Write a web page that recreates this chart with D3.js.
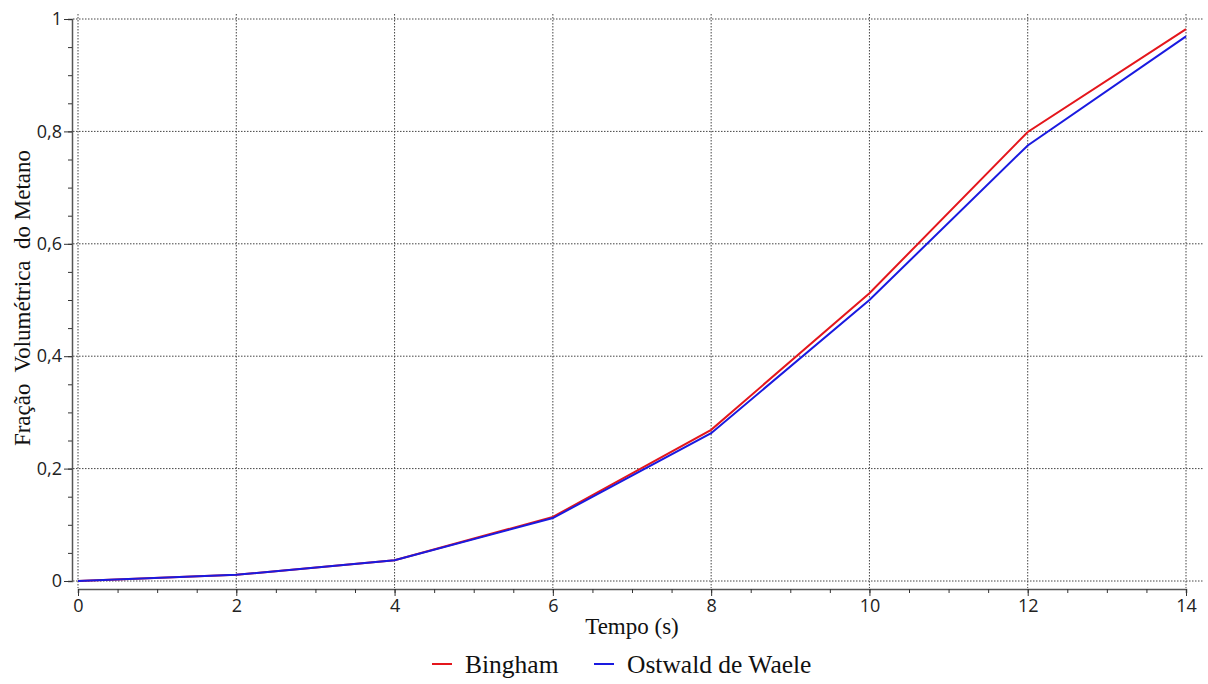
<!DOCTYPE html>
<html lang="pt">
<head>
<meta charset="UTF-8">
<title>Fração Volumétrica do Metano</title>
<script src="https://d3js.org/d3.v7.min.js"></script>
<style>
  body { margin: 0; background: #fff; }
  .title { font-family: "Liberation Serif", "Times New Roman", serif; fill: #111; }
</style>
</head>
<body>
<svg width="1208" height="684"></svg>
<script>
// data
var tempo = [0, 2, 4, 6, 8, 10, 12, 14];
var bingham = [0, 0.011, 0.037, 0.114, 0.269, 0.512, 0.799, 0.982];
var ostwald = [0, 0.011, 0.037, 0.112, 0.263, 0.500, 0.775, 0.969];
var xTicks = [0, 2, 4, 6, 8, 10, 12, 14];
var yTicks = [0, 0.2, 0.4, 0.6, 0.8, 1];
var seriesNames = ["Bingham", "Ostwald de Waele"];
var seriesColors = ["#e4161c", "#1a1ae0"];

var svg = d3.select("svg");

var x = d3.scaleLinear().domain([0, 14]).range([78, 1186]);
var y = d3.scaleLinear().domain([0, 1]).range([581, 19]);
var fmt = function(d) { return String(d).replace(".", ","); };

// grid
var grid = svg.append("g");
grid.selectAll(".vg").data(xTicks).enter().append("line")
    .attr("x1", d => x(d)).attr("x2", d => x(d))
    .attr("y1", 14).attr("y2", 588)
    .attr("stroke", "#444").attr("stroke-width", 1)
    .attr("stroke-dasharray", "1.5,1.5");
grid.selectAll(".hg").data(yTicks).enter().append("line")
    .attr("x1", 73).attr("x2", 1203)
    .attr("y1", d => y(d)).attr("y2", d => y(d))
    .attr("stroke", "#444").attr("stroke-width", 1)
    .attr("stroke-dasharray", "1.5,1.5");

// x axis (offset below the plot)
var xAxis = svg.append("g").attr("transform", "translate(0,589)");
xAxis.call(d3.axisBottom(x).tickValues(d3.range(0, 14.01, 0.5)).tickSize(4).tickFormat(""));
var xLab = svg.append("g").attr("transform", "translate(0,589)")
    .call(d3.axisBottom(x).tickValues(xTicks).tickSize(7).tickPadding(3).tickFormat(fmt));
xLab.select(".domain").remove();

// y axis (offset left of the plot)
var yAxis = svg.append("g").attr("transform", "translate(72,0)");
yAxis.call(d3.axisLeft(y).tickValues(d3.range(0, 1.001, 0.05)).tickSize(4).tickFormat(""));
var yLab = svg.append("g").attr("transform", "translate(72,0)")
    .call(d3.axisLeft(y).tickValues(yTicks).tickSize(8).tickPadding(2).tickFormat(fmt));
yLab.select(".domain").remove();

[xAxis, xLab, yAxis, yLab].forEach(function(g) {
  g.selectAll("path").attr("stroke", "#555").attr("stroke-width", 1.5);
  g.selectAll("line").attr("stroke", "#333");
  g.attr("font-size", null).attr("font-family", null);
  g.selectAll("text")
    .style("font-family", "'Open Sans', 'DejaVu Sans', sans-serif")
    .style("font-size", "18px")
    .attr("fill", "#222");
});

// lines
var line = d3.line().x((d, i) => x(tempo[i])).y(d => y(d));
[bingham, ostwald].forEach(function(vals, k) {
  svg.append("path").datum(vals)
    .attr("d", line)
    .attr("fill", "none")
    .attr("stroke", seriesColors[k])
    .attr("stroke-width", 2);
});

// titles
svg.append("text").attr("class", "title")
    .attr("x", 632).attr("y", 634)
    .attr("text-anchor", "middle").attr("font-size", 23)
    .text("Tempo (s)");
svg.append("text").attr("class", "title")
    .attr("transform", "translate(30,298) rotate(-90)")
    .attr("text-anchor", "middle").attr("font-size", 23)
    .attr("xml:space", "preserve")
    .text("Fração  Volumétrica  do Metano");

// legend
var legendX = [432, 594];
var lg = svg.append("g");
seriesNames.forEach(function(name, k) {
  lg.append("line")
    .attr("x1", legendX[k]).attr("x2", legendX[k] + 20)
    .attr("y1", 664).attr("y2", 664)
    .attr("stroke", seriesColors[k]).attr("stroke-width", 2);
  lg.append("text").attr("class", "title")
    .attr("x", legendX[k] + 33).attr("y", 673)
    .attr("font-size", 25.5)
    .text(name);
});
</script>
</body>
</html>
